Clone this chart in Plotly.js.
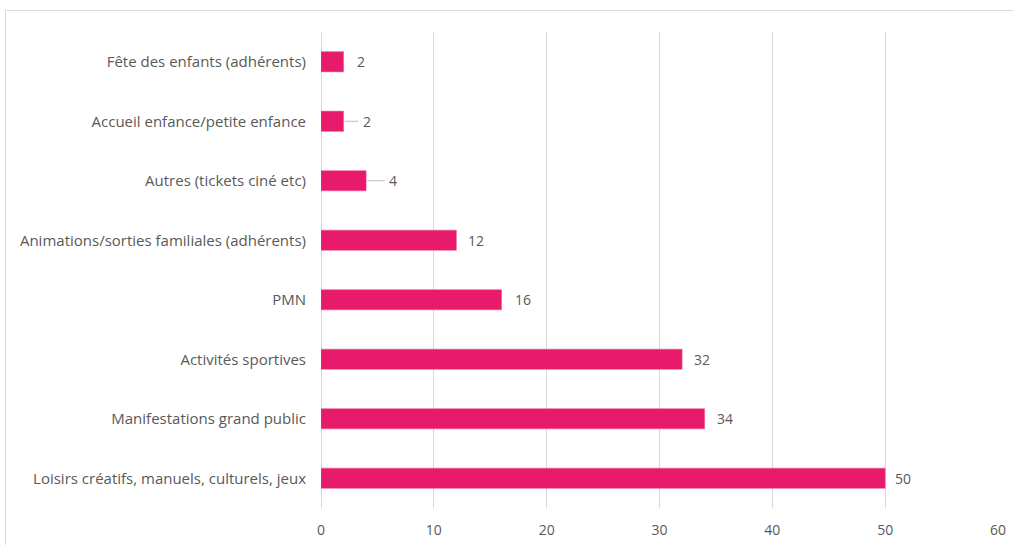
<!DOCTYPE html>
<html>
<head>
<meta charset="utf-8">
<script src="https://cdn.plot.ly/plotly-3.0.1.min.js"></script>
<style>
  html, body { margin: 0; padding: 0; background: #ffffff; overflow: hidden; }
  #wrap { position: relative; width: 1013px; height: 545px; }
  #chart { position: absolute; left: 0; top: 0; width: 1013px; height: 545px; }
  #frame { position: absolute; left: 5px; top: 10px; width: 1100px; height: 600px;
           border: 1px solid #d9d9d9; pointer-events: none; }
</style>
</head>
<body>
<div id="wrap">
  <div id="chart"></div>
  <div id="frame"></div>
</div>
<script>
// Categories listed top to bottom
const categories = [
  "Fête des enfants (adhérents)",
  "Accueil enfance/petite enfance",
  "Autres (tickets ciné etc)",
  "Animations/sorties familiales (adhérents)",
  "PMN",
  "Activités sportives",
  "Manifestations grand public",
  "Loisirs créatifs, manuels, culturels, jeux"
];
const values = [2, 2, 4, 12, 16, 32, 34, 50];
const xTickValues = [0, 10, 20, 30, 40, 50, 60];

// label styling (pixel offsets from bar end, leader line visibility)
const labelOffsets = [17, 23, 27, 20, 21, 20, 20, 18];
const labelLeaders = [false, true, true, false, false, false, false, false];

const barColor = '#E71A6B';
const textColor = '#595959';
const gridColor = '#d9d9d9';
const fontFamily = '"Open Sans", Lato, sans-serif';

const trace = {
  type: 'bar',
  orientation: 'h',
  x: values,
  y: categories,
  width: 0.34,
  marker: { color: barColor, line: { color: '#F0558F', width: 0.5 } },
  hoverinfo: 'x+y',
  cliponaxis: false
};

const annotations = values.map((v, i) => ({
  x: v,
  y: categories[i],
  xref: 'x',
  yref: 'y',
  text: String(v),
  showarrow: true,
  arrowhead: 0,
  arrowwidth: 1,
  arrowcolor: labelLeaders[i] ? '#bfbfbf' : 'rgba(0,0,0,0)',
  ax: labelOffsets[i],
  ay: 0,
  standoff: 1,
  borderpad: 4,
  font: { family: fontFamily, size: 14, color: textColor }
}));

const layout = {
  width: 1013,
  height: 545,
  margin: { l: 321, r: 15, t: 32, b: 37 },
  paper_bgcolor: 'rgba(0,0,0,0)',
  plot_bgcolor: 'rgba(0,0,0,0)',
  showlegend: false,
  font: { family: fontFamily, size: 14, color: textColor },
  xaxis: {
    range: [0, 60],
    tickvals: xTickValues,
    ticktext: xTickValues.map(String),
    showgrid: true,
    gridcolor: gridColor,
    gridwidth: 1,
    zeroline: true,
    zerolinecolor: gridColor,
    zerolinewidth: 1,
    showline: false,
    ticks: '',
    ticklabelstandoff: 12,
    tickfont: { family: fontFamily, size: 14, color: textColor },
    fixedrange: true
  },
  yaxis: {
    type: 'category',
    autorange: 'reversed',
    showgrid: false,
    zeroline: false,
    showline: false,
    ticks: '',
    ticklabelstandoff: 14,
    tickfont: { family: fontFamily, size: 15, color: textColor },
    fixedrange: true
  },
  annotations: annotations
};

Plotly.newPlot('chart', [trace], layout, { displayModeBar: false, staticPlot: false });
</script>
</body>
</html>
